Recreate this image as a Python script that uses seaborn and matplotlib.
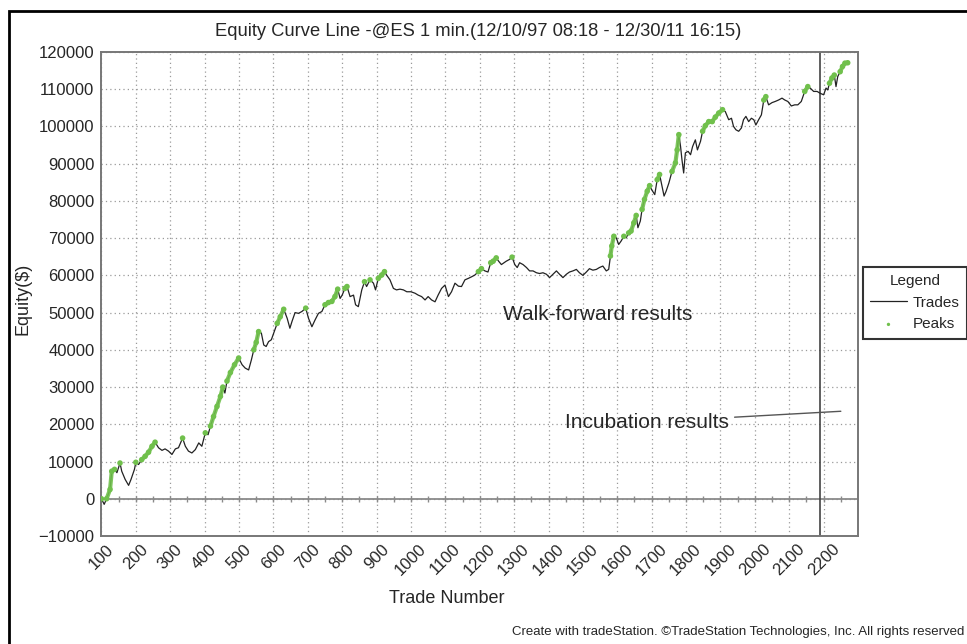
import numpy as np
import pandas as pd
import matplotlib
matplotlib.use("Agg")
import matplotlib.pyplot as plt
from matplotlib.patches import Rectangle
import seaborn as sns

# ==========================================
# 1. DATA
# ==========================================
trade_num = [
    100, 108, 115, 125, 130, 138, 145, 154, 159, 169, 179, 186, 196, 200, 208,
    217, 227, 237, 247, 256, 266, 276, 285, 295, 305, 315, 324, 336, 344, 353,
    363, 373, 383, 392, 402, 410, 417, 426, 436, 446, 453, 459, 465, 475, 487,
    499, 509, 518, 528, 536, 543, 550, 557, 565, 572, 579, 586, 594, 601, 611,
    620, 630, 640, 648, 654, 663, 673, 683, 694, 702, 712, 721, 731, 741, 750,
    760, 770, 779, 787, 794, 800, 808, 814, 823, 833, 839, 847, 857, 865, 871,
    881, 891, 897, 905, 915, 923, 929, 939, 949, 958, 968, 978, 988, 1000, 1012,
    1021, 1031, 1041, 1050, 1060, 1070, 1079, 1089, 1099, 1109, 1118, 1128, 1138,
    1147, 1157, 1167, 1176, 1186, 1196, 1205, 1215, 1224, 1232, 1239, 1248, 1255,
    1263, 1271, 1277, 1287, 1294, 1302, 1309, 1316, 1326, 1336, 1345, 1355, 1365,
    1374, 1384, 1394, 1403, 1413, 1423, 1432, 1442, 1452, 1461, 1471, 1481, 1490,
    1500, 1510, 1519, 1529, 1539, 1548, 1558, 1568, 1575, 1580, 1584, 1590, 1597,
    1604, 1611, 1619, 1626, 1633, 1640, 1648, 1655, 1660, 1667, 1672, 1679, 1687,
    1694, 1700, 1709, 1716, 1723, 1730, 1736, 1742, 1750, 1759, 1769, 1774, 1779,
    1784, 1788, 1793, 1798, 1806, 1813, 1819, 1827, 1833, 1842, 1848, 1856, 1866,
    1876, 1885, 1895, 1906, 1914, 1924, 1932, 1938, 1945, 1953, 1961, 1967, 1974,
    1982, 1990, 1997, 2003, 2011, 2019, 2026, 2032, 2040, 2050, 2059, 2069, 2079,
    2087, 2096, 2106, 2116, 2125, 2135, 2145, 2154, 2161, 2171, 2181, 2190, 2200,
    2207, 2212, 2217, 2224, 2231, 2236, 2241, 2248, 2255, 2262, 2270,
]
equity = [
    0, -1500, 0, 2500, 7400, 7900, 7000, 9600, 7400, 5200, 3600, 5200, 7900, 9800, 9200,
    10500, 11400, 12500, 14100, 15200, 13700, 13000, 13400, 12800, 11900, 13400, 13700, 16300, 14100, 12800,
    12300, 13200, 15000, 14100, 17700, 17200, 19500, 22100, 24800, 27500, 30000, 28400, 31600, 33900, 36000,
    37800, 36000, 35100, 34600, 37300, 40000, 42000, 44900, 44500, 41300, 40900, 42200, 42700, 44500, 47100,
    48900, 50900, 48500, 45800, 47600, 50000, 49800, 50300, 51200, 48500, 46200, 48000, 49800, 50300, 52100,
    52700, 53000, 54300, 56300, 53800, 54700, 56500, 57000, 54300, 54700, 52100, 51600, 56100, 58300, 57000,
    58800, 57900, 56100, 59200, 60100, 61000, 60100, 58800, 56500, 56100, 56300, 56100, 55600, 55600, 55200,
    54700, 54300, 53400, 54300, 53400, 52900, 54700, 56500, 57400, 54300, 55600, 57900, 57100,
    57000, 58800, 59200, 59600, 60100, 61000, 61800, 61200, 60900, 63400, 63800, 64700, 63800,
    62900, 63400, 63800, 64300, 64900, 62900, 62100, 63400, 62900, 62100, 61200, 61200, 60700,
    60500, 60700, 60300, 59400, 60300, 61200, 60300, 59400, 60300, 60900, 61200, 61600, 60700,
    60000, 60900, 61800, 61400, 61600, 62100, 62500, 61200, 61600, 65200, 67900, 70500, 70100,
    68300, 69200, 70500, 70100, 71400, 71900, 74100, 76100, 72800, 74600, 77700, 80400, 82600,
    84100, 83000, 81700, 85700, 87100, 83900, 81300, 82600, 84800, 87900, 90200, 93700, 97800,
    94600, 91100, 87500, 92900, 93300, 92400, 94600, 96400, 93700, 96000, 98700, 100200, 101300,
    101300, 102500, 103600, 104500, 104000, 101800, 102200, 100000, 99100, 98700, 99600, 101800, 102700,
    101300, 102200, 101800, 100400, 101800, 103100, 107100, 108000, 105800, 106400, 106700, 107100, 107600,
    107100, 106700, 105500, 105800, 105800, 106700, 109400, 110700, 110300, 109400, 109400, 108900, 108500,
    110300, 109800, 111600, 113000, 113800, 110700, 113400, 114700, 116100, 117000, 117100,
]

x_ticks = list(range(100, 2300, 100))
y_ticks = list(range(-10000, 120001, 10000))
incubation_start = 2190

title_text = "Equity Curve Line -@ES 1 min.(12/10/97 08:18 - 12/30/11 16:15)"
footer_text = "Create with tradeStation. ©TradeStation Technologies, Inc. All rights reserved"

df = pd.DataFrame({"trade": trade_num, "equity": equity})
# peaks = trades where equity sits at a new high
df["is_peak"] = df["equity"] >= df["equity"].cummax()
peaks = df[df["is_peak"]]
# runs of consecutive peak trades (drawn as a green band, like the dense dots)
df["run"] = (df["is_peak"] != df["is_peak"].shift()).cumsum()

# ==========================================
# 2. FIGURE
# ==========================================
sns.set_style("white")
plt.rcParams["font.family"] = ["Liberation Sans", "DejaVu Sans"]

fig = plt.figure(figsize=(9.67, 6.44), dpi=100)
ax = fig.add_axes([0.1049, 0.1677, 0.7824, 0.7516])
ax.set_axisbelow(True)

ax.grid(True, color="#9a9a9a", linestyle=(0, (1, 2.5)), linewidth=0.9)

# zero line with its little tick marks
ax.axhline(0, color="#8a8a8a", lw=1.3, zorder=1.5)
zt = np.arange(100, 2300, 50)
ax.plot(zt, np.zeros(len(zt)), ls="none", marker="|", ms=4, mew=1, color="#8a8a8a", zorder=1.6)

sns.lineplot(data=df, x="trade", y="equity", color="#222222", lw=0.9,
             ax=ax, label="Trades", zorder=3)

green = "#70c04c"
for _, run in df[df["is_peak"]].groupby("run"):
    if len(run) > 1:
        ax.plot(run["trade"], run["equity"], color=green, lw=3.0, alpha=0.9,
                solid_capstyle="round", zorder=3.5)
sns.scatterplot(data=peaks, x="trade", y="equity", color=green, s=16,
                edgecolor="none", ax=ax, label="Peaks", zorder=4)

ax.axvline(incubation_start, color="#444444", lw=1.2, zorder=2)

# ==========================================
# 3. AXES, TICKS, LABELS
# ==========================================
ax.set_xlim(100, 2300)
ax.set_ylim(-10000, 120000)
ax.set_xticks(x_ticks)
ax.set_xticklabels([str(v) for v in x_ticks], rotation=45, ha="center")
ax.set_yticks(y_ticks)
ax.set_yticklabels([str(v).replace("-", "\u2212") for v in y_ticks])
ax.set_yticks(np.arange(-5000, 120000, 10000), minor=True)
ax.tick_params(axis="x", labelsize=12, length=0, pad=4)
ax.tick_params(axis="y", which="both", labelsize=12, length=4, direction="inout",
               color="#777777", pad=3)

for s in ax.spines.values():
    s.set_color("#777777")
    s.set_linewidth(1.4)

ax.set_xlabel("Trade Number", fontsize=13)
ax.set_ylabel("Equity($)", fontsize=13)
ax.xaxis.set_label_coords((447 - 101.4) / 756.6, -0.112)
ax.yaxis.set_label_coords(-0.092, 0.49)

ax.text(1269, 49500, "Walk-forward results", fontsize=15, va="center")
ax.annotate("Incubation results", xy=(2250, 23500), xytext=(1447, 20600),
            fontsize=15, va="center",
            arrowprops=dict(arrowstyle="-", color="#555555", lw=1, shrinkA=2, shrinkB=0))

fig.text(0.4945, 1 - 32 / 644, title_text, ha="center", va="center", fontsize=13.2)
fig.text(964 / 967, 1 - 632 / 644, footer_text, ha="right", va="center", fontsize=9.5)

# legend hanging off the right edge
handles, labels = ax.get_legend_handles_labels()
ax.get_legend().remove()
leg = fig.legend(handles, labels, title="Legend", loc="upper left",
                 bbox_to_anchor=(862.5 / 967, 1 - 266.5 / 644), borderaxespad=0,
                 fontsize=11, title_fontsize=11,
                 frameon=True, fancybox=False, edgecolor="black",
                 handlelength=2.4, handletextpad=0.4, borderpad=0.5,
                 labelspacing=0.5, markerscale=0.6)
leg.get_frame().set_linewidth(1.5)

# outer frame of the report
fig.add_artist(Rectangle((9 / 967, -0.2), 1.2, 0.2 + (1 - 11 / 644),
                         transform=fig.transFigure, fill=False,
                         edgecolor="black", lw=2))

plt.savefig("out.png", dpi=100)
